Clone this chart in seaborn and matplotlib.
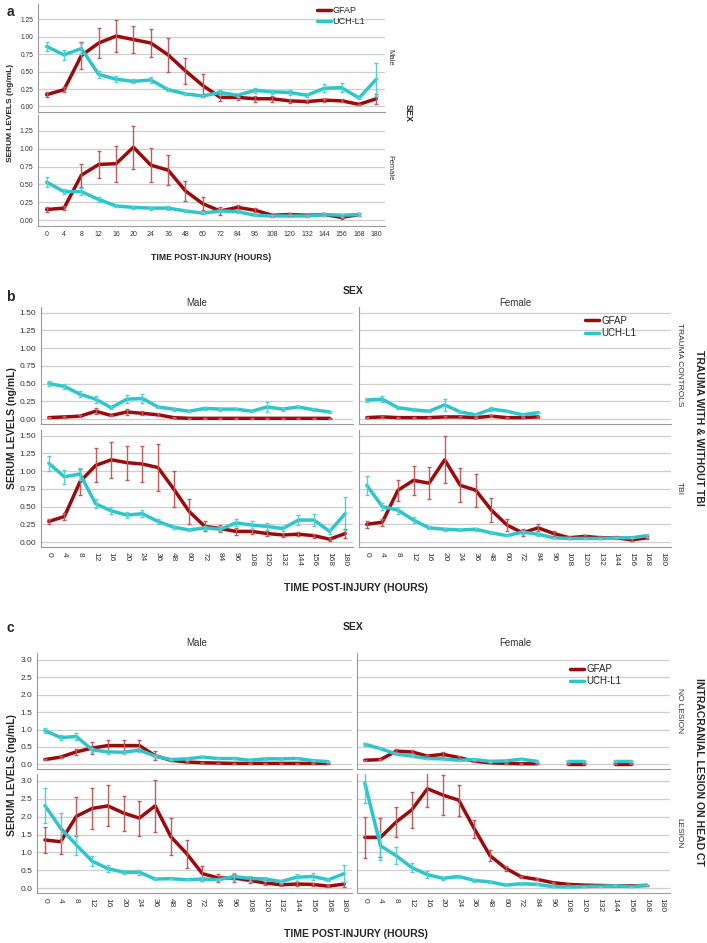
import numpy as np
import pandas as pd
import matplotlib
matplotlib.use("Agg")
import matplotlib.pyplot as plt
from matplotlib.lines import Line2D
import seaborn as sns

nan = np.nan

# ===============================
# Data (means and half-width of error bars, ng/mL)
# ===============================
hours = ["0", "4", "8", "12", "16", "20", "24", "36", "48", "60", "72", "84",
         "96", "108", "120", "132", "144", "156", "168", "180"]

# panel a: by sex
a_male_gfap = [0.17, 0.24, 0.73, 0.91, 1.01, 0.96, 0.91, 0.74, 0.51, 0.30, 0.13, 0.13, 0.11, 0.11, 0.08, 0.07, 0.09, 0.08, 0.03, 0.11]
a_male_gfap_err = [0.04, 0.04, 0.19, 0.21, 0.23, 0.20, 0.20, 0.24, 0.19, 0.17, 0.05, 0.04, 0.04, 0.04, 0.03, 0.02, 0.02, 0.02, 0.01, 0.07]
a_male_uch = [0.86, 0.74, 0.83, 0.46, 0.39, 0.36, 0.38, 0.24, 0.18, 0.15, 0.20, 0.16, 0.23, 0.21, 0.20, 0.16, 0.26, 0.27, 0.12, 0.39]
a_male_uch_err = [0.07, 0.07, 0.08, 0.05, 0.04, 0.03, 0.04, 0.02, 0.01, 0.01, 0.03, 0.03, 0.04, 0.03, 0.03, 0.03, 0.06, 0.07, 0.02, 0.24]
a_fem_gfap = [0.15, 0.17, 0.63, 0.78, 0.79, 1.02, 0.77, 0.70, 0.41, 0.23, 0.13, 0.18, 0.14, 0.07, 0.08, 0.07, 0.08, 0.04, 0.08, nan]
a_fem_gfap_err = [0.03, 0.03, 0.16, 0.19, 0.25, 0.30, 0.24, 0.21, 0.14, 0.09, 0.05, 0.04, 0.03, 0.02, 0.02, 0.02, 0.02, 0.02, 0.02, nan]
a_fem_uch = [0.53, 0.40, 0.40, 0.29, 0.20, 0.18, 0.17, 0.17, 0.13, 0.10, 0.13, 0.12, 0.07, 0.06, 0.06, 0.06, 0.08, 0.07, 0.08, nan]
a_fem_uch_err = [0.07, 0.03, 0.05, 0.03, 0.02, 0.02, 0.02, 0.03, 0.01, 0.01, 0.02, 0.02, 0.01, 0.01, 0.01, 0.01, 0.02, 0.02, 0.02, nan]

# panel b: trauma controls / TBI
b_tc_male_gfap = [0.02, 0.03, 0.04, 0.11, 0.05, 0.10, 0.08, 0.06, 0.02, 0.01, 0.01, 0.01, 0.01, 0.01, 0.01, 0.01, 0.01, 0.01, 0.01, nan]
b_tc_male_gfap_err = [0.01, 0.01, 0.01, 0.04, 0.01, 0.04, 0.03, 0.02, 0.01, 0.01, 0.005, 0.005, 0.005, 0.005, 0.005, 0.005, 0.005, 0.005, 0.005, nan]
b_tc_male_uch = [0.50, 0.46, 0.35, 0.28, 0.16, 0.28, 0.29, 0.17, 0.14, 0.11, 0.15, 0.14, 0.14, 0.11, 0.17, 0.14, 0.17, 0.13, 0.10, nan]
b_tc_male_uch_err = [0.04, 0.03, 0.04, 0.05, 0.02, 0.06, 0.06, 0.02, 0.02, 0.01, 0.02, 0.02, 0.01, 0.01, 0.07, 0.02, 0.02, 0.02, 0.01, nan]
b_tc_fem_gfap = [0.02, 0.03, 0.02, 0.02, 0.02, 0.03, 0.03, 0.02, 0.04, 0.02, 0.02, 0.03, nan, nan, nan, nan, nan, nan, nan, nan]
b_tc_fem_gfap_err = [0.01, 0.01, 0.005, 0.005, 0.005, 0.01, 0.01, 0.005, 0.01, 0.005, 0.005, 0.01, nan, nan, nan, nan, nan, nan, nan, nan]
b_tc_fem_uch = [0.27, 0.28, 0.16, 0.13, 0.11, 0.20, 0.10, 0.06, 0.14, 0.11, 0.06, 0.09, nan, nan, nan, nan, nan, nan, nan, nan]
b_tc_fem_uch_err = [0.03, 0.04, 0.02, 0.02, 0.01, 0.08, 0.01, 0.01, 0.03, 0.01, 0.01, 0.01, nan, nan, nan, nan, nan, nan, nan, nan]
b_tbi_male_gfap = [0.29, 0.36, 0.85, 1.08, 1.16, 1.12, 1.10, 1.05, 0.75, 0.43, 0.22, 0.19, 0.15, 0.15, 0.12, 0.10, 0.11, 0.09, 0.04, 0.12]
b_tbi_male_gfap_err = [0.04, 0.05, 0.18, 0.24, 0.25, 0.24, 0.25, 0.33, 0.25, 0.17, 0.07, 0.05, 0.05, 0.04, 0.04, 0.03, 0.03, 0.03, 0.02, 0.07]
b_tbi_male_uch = [1.11, 0.92, 0.96, 0.54, 0.44, 0.38, 0.40, 0.29, 0.21, 0.17, 0.20, 0.18, 0.27, 0.24, 0.22, 0.19, 0.31, 0.31, 0.15, 0.40]
b_tbi_male_uch_err = [0.11, 0.10, 0.09, 0.06, 0.05, 0.04, 0.05, 0.03, 0.02, 0.01, 0.03, 0.03, 0.05, 0.05, 0.05, 0.04, 0.07, 0.09, 0.04, 0.23]
b_tbi_fem_gfap = [0.25, 0.28, 0.73, 0.87, 0.83, 1.16, 0.80, 0.73, 0.45, 0.24, 0.13, 0.20, 0.12, 0.06, 0.08, 0.06, 0.06, 0.03, 0.06, nan]
b_tbi_fem_gfap_err = [0.05, 0.05, 0.15, 0.20, 0.23, 0.33, 0.24, 0.23, 0.17, 0.09, 0.05, 0.05, 0.03, 0.02, 0.02, 0.02, 0.02, 0.02, 0.02, nan]
b_tbi_fem_uch = [0.80, 0.50, 0.45, 0.31, 0.20, 0.18, 0.17, 0.18, 0.13, 0.09, 0.14, 0.11, 0.06, 0.05, 0.05, 0.05, 0.06, 0.06, 0.09, nan]
b_tbi_fem_uch_err = [0.13, 0.05, 0.05, 0.04, 0.02, 0.02, 0.02, 0.02, 0.01, 0.01, 0.02, 0.02, 0.01, 0.01, 0.01, 0.01, 0.01, 0.01, 0.02, nan]

# panel c: no lesion / lesion on head CT
c_nl_male_gfap = [0.14, 0.21, 0.36, 0.47, 0.54, 0.54, 0.54, 0.25, 0.12, 0.07, 0.05, 0.04, 0.03, 0.03, 0.03, 0.03, 0.03, 0.03, 0.03, nan]
c_nl_male_gfap_err = [0.02, 0.03, 0.08, 0.16, 0.16, 0.16, 0.16, 0.13, 0.03, 0.02, 0.01, 0.01, 0.01, 0.01, 0.01, 0.01, 0.01, 0.01, 0.01, nan]
c_nl_male_uch = [0.97, 0.77, 0.80, 0.42, 0.36, 0.35, 0.41, 0.24, 0.14, 0.16, 0.21, 0.17, 0.17, 0.12, 0.16, 0.16, 0.17, 0.11, 0.08, nan]
c_nl_male_uch_err = [0.07, 0.08, 0.09, 0.05, 0.06, 0.04, 0.05, 0.03, 0.02, 0.02, 0.03, 0.02, 0.02, 0.02, 0.02, 0.02, 0.02, 0.02, 0.01, nan]
c_nl_fem_gfap = [0.12, 0.14, 0.38, 0.36, 0.24, 0.29, 0.20, 0.09, 0.05, 0.03, 0.02, 0.02, nan, 0.02, 0.02, nan, 0.02, 0.02, nan, nan]
c_nl_fem_gfap_err = [0.02, 0.02, 0.05, 0.04, 0.04, 0.06, 0.03, 0.02, 0.01, 0.01, 0.01, 0.01, nan, 0.01, 0.01, nan, 0.01, 0.01, nan, nan]
c_nl_fem_uch = [0.58, 0.45, 0.30, 0.24, 0.17, 0.16, 0.12, 0.14, 0.09, 0.10, 0.15, 0.09, nan, 0.10, 0.10, nan, 0.10, 0.10, nan, nan]
c_nl_fem_uch_err = [0.04, 0.02, 0.02, 0.02, 0.01, 0.01, 0.01, 0.01, 0.01, 0.01, 0.02, 0.01, nan, 0.01, 0.01, nan, 0.01, 0.01, nan, nan]
c_l_male_gfap = [1.35, 1.30, 2.01, 2.23, 2.30, 2.10, 1.96, 2.30, 1.44, 0.97, 0.41, 0.29, 0.29, 0.22, 0.15, 0.10, 0.12, 0.11, 0.06, 0.12]
c_l_male_gfap_err = [0.36, 0.35, 0.55, 0.57, 0.57, 0.49, 0.49, 0.72, 0.51, 0.39, 0.20, 0.11, 0.10, 0.07, 0.05, 0.03, 0.05, 0.05, 0.03, 0.07]
c_l_male_uch = [2.31, 1.68, 1.21, 0.76, 0.55, 0.45, 0.45, 0.26, 0.27, 0.24, 0.26, 0.24, 0.33, 0.28, 0.26, 0.19, 0.31, 0.33, 0.24, 0.41]
c_l_male_uch_err = [0.50, 0.42, 0.27, 0.14, 0.09, 0.06, 0.07, 0.04, 0.02, 0.02, 0.05, 0.02, 0.10, 0.07, 0.06, 0.03, 0.10, 0.11, 0.03, 0.24]
c_l_fem_gfap = [1.42, 1.42, 1.85, 2.19, 2.78, 2.60, 2.46, 1.66, 0.91, 0.56, 0.32, 0.25, 0.16, 0.11, 0.09, 0.08, 0.07, 0.07, 0.08, nan]
c_l_fem_gfap_err = [0.57, 0.54, 0.43, 0.50, 0.52, 0.56, 0.43, 0.26, 0.16, 0.07, 0.03, 0.03, 0.02, 0.01, 0.01, 0.01, 0.01, 0.01, 0.01, nan]
c_l_fem_uch = [2.94, 1.19, 0.91, 0.58, 0.38, 0.28, 0.33, 0.22, 0.18, 0.09, 0.13, 0.11, 0.05, 0.04, 0.05, 0.06, 0.07, 0.05, 0.09, nan]
c_l_fem_uch_err = [0.55, 0.40, 0.23, 0.12, 0.09, 0.05, 0.05, 0.03, 0.02, 0.01, 0.05, 0.02, 0.01, 0.01, 0.01, 0.01, 0.01, 0.01, 0.01, nan]

LINE = {"GFAP": "#9b0a0c", "UCH-L1": "#2ec6ca"}
ERR = {"GFAP": "#c45a5a", "UCH-L1": "#55d0d3"}

W, H = 707, 943

# ===============================
# Helpers
# ===============================
def to_long(gfap, gfap_err, uch, uch_err):
    rows = []
    for name, vals, errs in [("GFAP", gfap, gfap_err), ("UCH-L1", uch, uch_err)]:
        seg = 0
        for i, (v, e) in enumerate(zip(vals, errs)):
            if np.isnan(v):
                seg += 1
                continue
            rows.append({"pos": i, "hour": hours[i], "marker": name,
                         "value": v, "err": e, "seg": f"{name}-{seg}"})
    return pd.DataFrame(rows)


def px_axes(fig, left, top, right, bottom):
    return fig.add_axes([left / W, 1 - bottom / H, (right - left) / W, (bottom - top) / H])


def draw_cell(ax, df, ylim, yticks, fmt, show_x, rot, fs):
    sns.lineplot(data=df, x="pos", y="value", hue="marker", units="seg",
                 estimator=None, palette=LINE, lw=2.5, legend=False,
                 sort=False, ax=ax)
    for name, g in df.groupby("marker"):
        ax.errorbar(g["pos"], g["value"], yerr=g["err"], fmt="none",
                    ecolor=ERR[name], elinewidth=1.0, capsize=1.7, capthick=1.0)
    ax.set_xlim(-0.5, 19.5)
    ax.set_ylim(*ylim)
    ax.set_yticks(yticks)
    ax.set_yticklabels([fmt.format(t) for t in yticks])
    ax.set_xticks(range(len(hours)))
    if show_x:
        ax.set_xticklabels(hours, rotation=rot, va="top", ha="center")
    else:
        ax.set_xticklabels([])
    ax.set_xlabel("")
    ax.set_ylabel("")
    ax.yaxis.grid(True, color="#cfcfcf", lw=0.9)
    ax.xaxis.grid(False)
    ax.set_axisbelow(True)
    for s in ["top", "right"]:
        ax.spines[s].set_visible(False)
    for s in ["left", "bottom"]:
        ax.spines[s].set_color("#9a9a9a")
        ax.spines[s].set_linewidth(0.8)
    ax.tick_params(axis="both", length=2, width=0.6, color="#9a9a9a",
                   labelcolor="#333333", labelsize=fs, pad=1.5)
    if not show_x:
        ax.tick_params(axis="x", length=0)


def add_legend(ax, x, y, fs):
    handles = [Line2D([], [], color=LINE[k], lw=2.5) for k in ["GFAP", "UCH-L1"]]
    ax.legend(handles, ["GFAP", "UCH-L1"], loc="upper left", bbox_to_anchor=(x, y),
              frameon=False, fontsize=fs, handlelength=1.5, handletextpad=0.2,
              labelspacing=0.25, borderaxespad=0, borderpad=0)


def ftext(x, y, s, **kw):
    fig.text(x / W, 1 - y / H, s, ha="center", va="center", **kw)


sns.set_style("white")
plt.rcParams["font.family"] = ["Liberation Sans", "DejaVu Sans"]

fig = plt.figure(figsize=(W / 100, H / 100), dpi=100)

# ===============================
# Panel a
# ===============================
ylim_a = (-0.08, 1.47)
ticks_a = [0, 0.25, 0.5, 0.75, 1.0, 1.25]
ax = px_axes(fig, 38, 4, 385, 112)
draw_cell(ax, to_long(a_male_gfap, a_male_gfap_err, a_male_uch, a_male_uch_err),
          ylim_a, ticks_a, "{:.2f}", False, 0, 4.8)
add_legend(ax, 0.805, 0.98, 6.5)
ax = px_axes(fig, 38, 115, 385, 226)
draw_cell(ax, to_long(a_fem_gfap, a_fem_gfap_err, a_fem_uch, a_fem_uch_err),
          ylim_a, ticks_a, "{:.2f}", True, 0, 5)

ftext(10, 12, "a", fontsize=10, fontweight="bold")
ftext(390, 57, "Male", fontsize=5.5, rotation=-90, color="#333333")
ftext(390, 168, "Female", fontsize=5.5, rotation=-90, color="#333333")
ftext(408, 113, "SEX", fontsize=6.5, rotation=-90, fontweight="bold")
ftext(11, 113, "SERUM LEVELS (ng/mL)", fontsize=6, rotation=90, fontweight="bold")
ftext(211, 258, "TIME POST-INJURY (HOURS)", fontsize=6.2, fontweight="bold")

# ===============================
# Panel b
# ===============================
ylim_b = (-0.07, 1.58)
ticks_b = [0, 0.25, 0.5, 0.75, 1.0, 1.25, 1.5]
cells_b = [
    ((41, 307, 353, 424), (b_tc_male_gfap, b_tc_male_gfap_err, b_tc_male_uch, b_tc_male_uch_err), False),
    ((359, 307, 670.5, 424), (b_tc_fem_gfap, b_tc_fem_gfap_err, b_tc_fem_uch, b_tc_fem_uch_err), False),
    ((41, 430, 353, 547), (b_tbi_male_gfap, b_tbi_male_gfap_err, b_tbi_male_uch, b_tbi_male_uch_err), True),
    ((359, 430, 670.5, 547), (b_tbi_fem_gfap, b_tbi_fem_gfap_err, b_tbi_fem_uch, b_tbi_fem_uch_err), True),
]
for i, (box, series, show_x) in enumerate(cells_b):
    ax = px_axes(fig, *box)
    draw_cell(ax, to_long(*series), ylim_b, ticks_b, "{:.2f}", show_x, -90, 6)
    if box[0] > 300:
        ax.tick_params(axis="y", labelleft=False, length=0)
    if i == 1:
        add_legend(ax, 0.725, 0.925, 7)

ftext(10, 297, "b", fontsize=10, fontweight="bold")
ftext(353, 291, "SEX", fontsize=7.5, fontweight="bold")
ftext(197, 303, "Male", fontsize=7, color="#333333")
ftext(515, 303, "Female", fontsize=7, color="#333333")
ftext(679, 365, "TRAUMA CONTROLS", fontsize=6, rotation=-90, color="#333333")
ftext(679, 488, "TBI", fontsize=6, rotation=-90, color="#333333")
ftext(699, 428, "TRAUMA WITH & WITHOUT TBI", fontsize=7.5, rotation=-90, fontweight="bold")
ftext(12, 428, "SERUM LEVELS (ng/mL)", fontsize=7.5, rotation=90, fontweight="bold")
ftext(356, 588, "TIME POST-INJURY (HOURS)", fontsize=7.5, fontweight="bold")

# ===============================
# Panel c
# ===============================
ylim_c = (-0.13, 3.19)
ticks_c = [0, 0.5, 1.0, 1.5, 2.0, 2.5, 3.0]
cells_c = [
    ((37, 653, 352, 769), (c_nl_male_gfap, c_nl_male_gfap_err, c_nl_male_uch, c_nl_male_uch_err), False),
    ((357, 653, 670, 769), (c_nl_fem_gfap, c_nl_fem_gfap_err, c_nl_fem_uch, c_nl_fem_uch_err), False),
    ((37, 774, 352, 893), (c_l_male_gfap, c_l_male_gfap_err, c_l_male_uch, c_l_male_uch_err), True),
    ((357, 774, 670, 893), (c_l_fem_gfap, c_l_fem_gfap_err, c_l_fem_uch, c_l_fem_uch_err), True),
]
for i, (box, series, show_x) in enumerate(cells_c):
    ax = px_axes(fig, *box)
    draw_cell(ax, to_long(*series), ylim_c, ticks_c, "{:.1f}", show_x, -90, 6)
    if box[0] > 300:
        ax.tick_params(axis="y", labelleft=False, length=0)
    if i == 1:
        add_legend(ax, 0.68, 0.905, 7)

ftext(10, 628, "c", fontsize=10, fontweight="bold")
ftext(353, 627, "SEX", fontsize=7.5, fontweight="bold")
ftext(197, 643, "Male", fontsize=7, color="#333333")
ftext(515, 643, "Female", fontsize=7, color="#333333")
ftext(679, 710, "NO LESION", fontsize=6, rotation=-90, color="#333333")
ftext(679, 833, "LESION", fontsize=6, rotation=-90, color="#333333")
ftext(699, 772, "INTRACRANIAL LESION ON HEAD CT", fontsize=7.5, rotation=-90, fontweight="bold")
ftext(12, 775, "SERUM LEVELS (ng/mL)", fontsize=7.5, rotation=90, fontweight="bold")
ftext(356, 934, "TIME POST-INJURY (HOURS)", fontsize=7.5, fontweight="bold")

fig.savefig("out.png", dpi=100)
